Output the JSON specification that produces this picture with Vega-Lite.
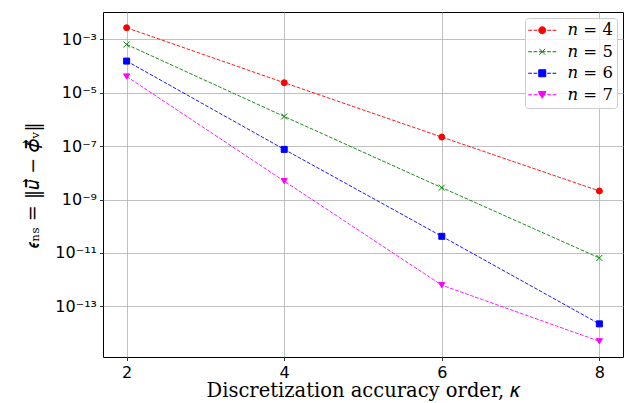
{
  "$schema": "https://vega.github.io/schema/vega-lite/v6.json",
  "width": 520,
  "height": 345,
  "autosize": "none",
  "padding": {"left": 103, "top": 12, "right": 1, "bottom": 46},
  "background": "white",
  "config": {
    "view": {"stroke": "black", "strokeWidth": 1},
    "axis": {
      "domain": false,
      "grid": true,
      "gridColor": "#b0b0b0",
      "gridWidth": 0.8,
      "tickColor": "black",
      "tickSize": 3.5,
      "tickWidth": 0.8,
      "labelFont": "DejaVu Sans",
      "labelFontSize": 16,
      "labelColor": "black",
      "titleFont": "DejaVu Serif",
      "titleFontWeight": "normal",
      "titleFontSize": 19,
      "titleColor": "black"
    }
  },
  "data": {
    "values": [
      {"k": 2, "n": "4", "err": 2.75e-3},
      {"k": 4, "n": "4", "err": 2.4e-5},
      {"k": 6, "n": "4", "err": 2.2e-7},
      {"k": 8, "n": "4", "err": 2.1e-9},
      {"k": 2, "n": "5", "err": 6.5e-4},
      {"k": 4, "n": "5", "err": 1.3e-6},
      {"k": 6, "n": "5", "err": 2.8e-9},
      {"k": 8, "n": "5", "err": 6.5e-12},
      {"k": 2, "n": "6", "err": 1.55e-4},
      {"k": 4, "n": "6", "err": 7.6e-8},
      {"k": 6, "n": "6", "err": 4.2e-11},
      {"k": 8, "n": "6", "err": 2.2e-14},
      {"k": 2, "n": "7", "err": 4.1e-5},
      {"k": 4, "n": "7", "err": 4.9e-9},
      {"k": 6, "n": "7", "err": 6.2e-13},
      {"k": 8, "n": "7", "err": 4.9e-15}
    ]
  },
  "encoding": {
    "x": {
      "field": "k",
      "type": "quantitative",
      "scale": {"domain": [1.7, 8.3], "nice": false, "zero": false},
      "axis": {"values": [2, 4, 6, 8], "format": "d", "labelPadding": 4, "title": "Discretization accuracy order, 𝜅", "titleFontSize": 19.5, "titlePadding": 1}
    },
    "y": {
      "field": "err",
      "type": "quantitative",
      "scale": {"type": "log", "domain": [1.26e-15, 1.07e-2], "nice": false},
      "axis": {
        "values": [1e-3, 1e-5, 1e-7, 1e-9, 1e-11, 1e-13],
        "labelExpr": "'10⁻' + (round(log(datum.value)/LN10) == -3 ? '³' : round(log(datum.value)/LN10) == -5 ? '⁵' : round(log(datum.value)/LN10) == -7 ? '⁷' : round(log(datum.value)/LN10) == -9 ? '⁹' : round(log(datum.value)/LN10) == -11 ? '¹¹' : '¹³')",
        "labelPadding": 3,
        "title": "𝜖ₙₛ = ‖𝑢⃗ − 𝜙⃗ᵥ‖",
        "titlePadding": 12
      }
    }
  },
  "layer": [
    {
      "mark": {"type": "line", "strokeDash": [3.7, 1.6], "strokeWidth": 0.9},
      "encoding": {
        "color": {"field": "n", "type": "nominal", "scale": {"domain": ["4", "5", "6", "7"], "range": ["#ff0000", "#008000", "#0000ff", "#ff00ff"]}, "legend": null}
      }
    },
    {
      "mark": {"type": "point", "filled": true, "size": 36, "strokeWidth": 1, "opacity": 1},
      "encoding": {
        "color": {"field": "n", "type": "nominal", "legend": null},
        "stroke": {"field": "n", "type": "nominal", "scale": {"domain": ["4", "5", "6", "7"], "range": ["#ff0000", "#008000", "#0000ff", "#ff00ff"]}, "legend": null},
        "shape": {"field": "n", "type": "nominal", "scale": {"domain": ["4", "5", "6", "7"], "range": ["circle", "M-1,-1L1,1M-1,1L1,-1", "square", "triangle-down"]}, "legend": null}
      }
    },
    {
      "transform": [{"filter": "false"}],
      "mark": {"type": "point", "filled": true, "size": 196, "strokeWidth": 1, "opacity": 1},
      "encoding": {
        "fill": {"field": "n", "type": "nominal", "scale": {"domain": ["4", "5", "6", "7"], "range": ["#ff0000", "#008000", "#0000ff", "#ff00ff"]}, "legend": {"title": null}},
        "stroke": {"field": "n", "type": "nominal", "legend": {"title": null}},
        "shape": {
          "field": "n",
          "type": "nominal",
          "scale": {"domain": ["4", "5", "6", "7"], "range": [
            "M-2,0L-1.47,0M-1.24,0L-0.71,0M-0.48,0L0.48,0M0.71,0L1.24,0M1.47,0L2,0M-0.5,0A0.5,0.5 0 1,0 0.5,0A0.5,0.5 0 1,0 -0.5,0Z",
            "M-2,0L-1.47,0M-1.24,0L-0.71,0M-0.48,0L0.48,0M0.71,0L1.24,0M1.47,0L2,0M-0.42,-0.42L0.42,0.42M-0.42,0.42L0.42,-0.42",
            "M-2,0L-1.47,0M-1.24,0L-0.71,0M-0.48,0L0.48,0M0.71,0L1.24,0M1.47,0L2,0M-0.5,-0.5L0.5,-0.5L0.5,0.5L-0.5,0.5Z",
            "M-2,0L-1.47,0M-1.24,0L-0.71,0M-0.48,0L0.48,0M0.71,0L1.24,0M1.47,0L2,0M-0.55,-0.45L0.55,-0.45L0,0.5Z"
          ]},
          "legend": {
            "title": null,
            "orient": "top-right",
            "offset": 6,
            "padding": 4,
            "strokeColor": "#cccccc",
            "fillColor": "rgba(255,255,255,0.8)",
            "cornerRadius": 3,
            "labelFont": "DejaVu Serif",
            "labelFontSize": 16.5,
            "labelColor": "black",
            "symbolOffset": 5,
            "labelOffset": 17,
            "rowPadding": 4.5,
            "symbolSize": 196,
            "symbolStrokeWidth": 1,
            "labelExpr": "'𝑛 = ' + datum.label"
          }
        }
      }
    }
  ],
  "resolve": {
    "scale": {"shape": "independent"},
    "legend": {"shape": "independent", "fill": "independent", "stroke": "independent", "color": "independent"}
  }
}
